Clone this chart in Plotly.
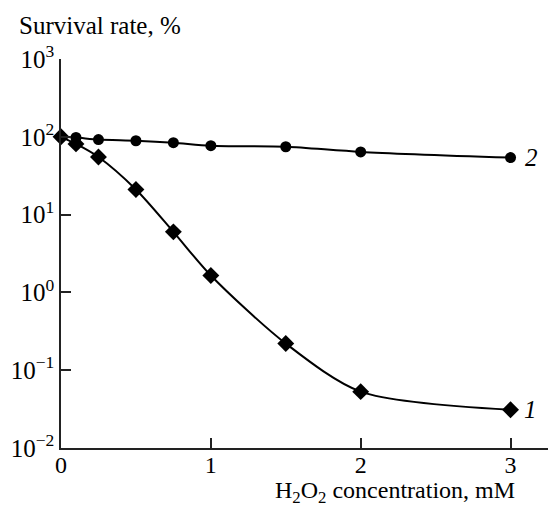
import plotly.graph_objects as go

# Data
conc = [0, 0.1, 0.25, 0.5, 0.75, 1, 1.5, 2, 3]
survival_1 = [100, 81, 55, 21, 6.0, 1.65, 0.22, 0.053, 0.031]
survival_2 = [100, 98, 92, 89, 84, 77, 74.5, 64, 54]

y_tickvals = [0.01, 0.1, 1, 10, 100, 1000]
y_ticktext = ["10<sup>−2</sup>", "10<sup>−1</sup>", "10<sup>0</sup>",
              "10<sup>1</sup>", "10<sup>2</sup>", "10<sup>3</sup>"]
x_tickvals = [0, 1, 2, 3]
x_ticktext = ["0", "1", "2", "3"]

FONT = "Liberation Serif"
FS = 25

fig = go.Figure()
fig.add_trace(go.Scatter(
    x=conc, y=survival_2, mode="lines+markers",
    line=dict(color="black", width=2, shape="spline", smoothing=0.8),
    marker=dict(symbol="circle", size=11, color="black"),
    showlegend=False, cliponaxis=False))
fig.add_trace(go.Scatter(
    x=conc, y=survival_1, mode="lines+markers",
    line=dict(color="black", width=2, shape="spline", smoothing=0.8),
    marker=dict(symbol="diamond", size=13, color="black"),
    showlegend=False, cliponaxis=False))

fig.update_layout(
    width=548, height=506,
    margin=dict(l=61, r=0, t=59, b=58),
    paper_bgcolor="white", plot_bgcolor="white",
    font=dict(family=FONT, size=FS, color="black"),
    xaxis=dict(range=[0, 3.25], tickvals=x_tickvals, ticktext=x_ticktext,
               ticks="inside", ticklen=10, tickwidth=1.5, tickcolor="#222",
               showline=True, linecolor="#222", linewidth=1.5,
               showgrid=False, zeroline=False, ticklabelstandoff=-6,
               tickfont=dict(family=FONT, size=24)),
    yaxis=dict(type="log", range=[-2, 3], tickvals=y_tickvals, ticktext=y_ticktext,
               ticks="inside", ticklen=10, tickwidth=1.5, tickcolor="#222",
               showline=True, linecolor="#222", linewidth=1.5,
               showgrid=False, zeroline=False,
               tickfont=dict(family=FONT, size=FS)),
    annotations=[
        dict(text="Survival rate, %", xref="paper", yref="paper",
             x=-0.09, y=1.087, xanchor="left", yanchor="middle",
             showarrow=False, font=dict(family=FONT, size=FS)),
        dict(text="H<sub>2</sub>O<sub>2</sub> concentration, mM", xref="paper", yref="paper",
             x=0.936, y=-0.114, xanchor="right", yanchor="middle",
             showarrow=False, font=dict(family=FONT, size=24)),
        dict(text="<i>1</i>", xref="x", yref="y", x=3, y=-1.509,
             xshift=20, xanchor="center", yanchor="middle",
             showarrow=False, font=dict(family=FONT, size=FS)),
        dict(text="<i>2</i>", xref="x", yref="y", x=3, y=1.735,
             xshift=21, xanchor="center", yanchor="middle",
             showarrow=False, font=dict(family=FONT, size=FS)),
    ],
)

fig.write_html("out.html")
